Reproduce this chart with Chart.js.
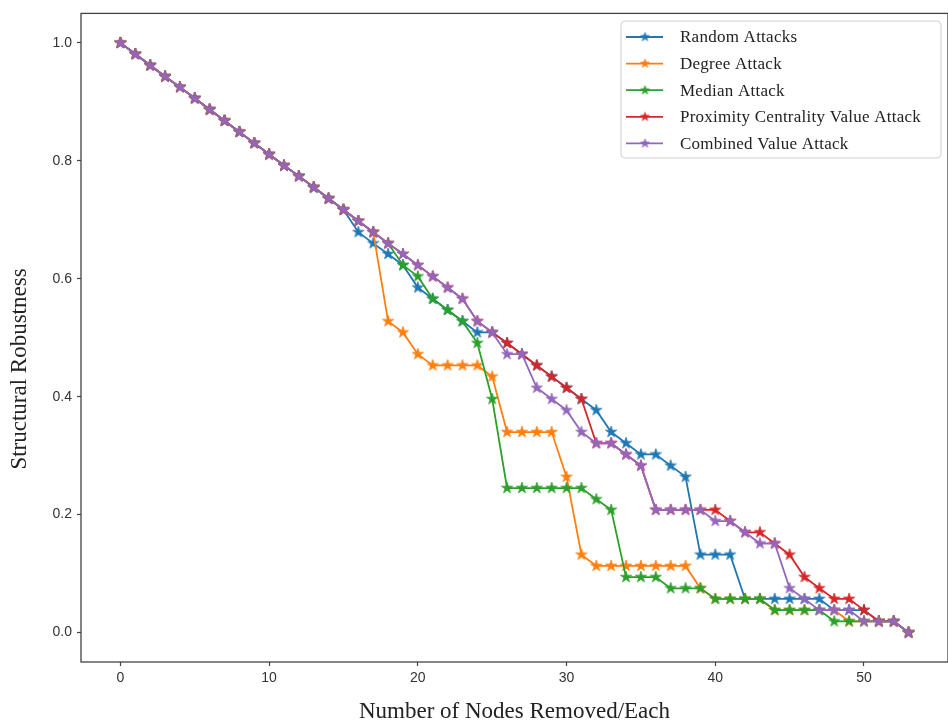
<!DOCTYPE html>
<html>
<head>
<meta charset="utf-8">
<script src="https://cdn.jsdelivr.net/npm/chart.js@4.4.1/dist/chart.umd.min.js"></script>
<style>
  html, body { margin: 0; padding: 0; background: #fff; }
  #wrap { width: 948px; height: 728px; }
</style>
</head>
<body>
<div id="wrap"><canvas id="chart" width="948" height="728"></canvas></div>
<script>
// 横轴：移除节点数
const nodesRemoved = [0, 1, 2, 3, 4, 5, 6, 7, 8, 9, 10, 11, 12, 13, 14, 15, 16, 17, 18, 19,
  20, 21, 22, 23, 24, 25, 26, 27, 28, 29, 30, 31, 32, 33, 34, 35, 36, 37, 38, 39,
  40, 41, 42, 43, 44, 45, 46, 47, 48, 49, 50, 51, 52, 53];

const xTicks = [0, 10, 20, 30, 40, 50];
const yTicks = [0, 0.2, 0.4, 0.6, 0.8, 1.0];

const seriesLabels = ['Random Attacks', 'Degree Attack', 'Median Attack',
  'Proximity Centrality Value Attack', 'Combined Value Attack'];

const randomAttack = [1, 0.981, 0.962, 0.943, 0.925, 0.906, 0.887, 0.868, 0.849, 0.830, 0.811, 0.792, 0.774, 0.755, 0.736, 0.717,
  0.679, 0.660, 0.642, 0.623, 0.585, 0.566, 0.547, 0.528, 0.509, 0.509,
  0.491, 0.472, 0.453, 0.434, 0.415, 0.396, 0.377, 0.340, 0.321, 0.302,
  0.302, 0.283, 0.264, 0.132, 0.132, 0.132, 0.057, 0.057, 0.057, 0.057,
  0.057, 0.057, 0.038, 0.038, 0.038, 0.019, 0.019, 0];

const degreeAttack = [1, 0.981, 0.962, 0.943, 0.925, 0.906, 0.887, 0.868, 0.849, 0.830, 0.811, 0.792, 0.774, 0.755, 0.736, 0.717,
  0.698, 0.679, 0.528, 0.509, 0.472, 0.453, 0.453, 0.453, 0.453, 0.434,
  0.340, 0.340, 0.340, 0.340, 0.264, 0.132, 0.113, 0.113, 0.113, 0.113,
  0.113, 0.113, 0.113, 0.075, 0.057, 0.057, 0.057, 0.057, 0.038, 0.038,
  0.038, 0.038, 0.038, 0.019, 0.019, 0.019, 0.019, 0];

const medianAttack = [1, 0.981, 0.962, 0.943, 0.925, 0.906, 0.887, 0.868, 0.849, 0.830, 0.811, 0.792, 0.774, 0.755, 0.736, 0.717,
  0.698, 0.679, 0.660, 0.623, 0.604, 0.566, 0.547, 0.528, 0.491, 0.396,
  0.245, 0.245, 0.245, 0.245, 0.245, 0.245, 0.226, 0.208, 0.094, 0.094,
  0.094, 0.075, 0.075, 0.075, 0.057, 0.057, 0.057, 0.057, 0.038, 0.038,
  0.038, 0.038, 0.019, 0.019, 0.019, 0.019, 0.019, 0];

const proximityAttack = [1, 0.981, 0.962, 0.943, 0.925, 0.906, 0.887, 0.868, 0.849, 0.830, 0.811, 0.792, 0.774, 0.755, 0.736, 0.717,
  0.698, 0.679, 0.660, 0.642, 0.623, 0.604, 0.585, 0.566, 0.528, 0.509,
  0.491, 0.472, 0.453, 0.434, 0.415, 0.396, 0.321, 0.321, 0.302, 0.283,
  0.208, 0.208, 0.208, 0.208, 0.208, 0.189, 0.170, 0.170, 0.151, 0.132,
  0.094, 0.075, 0.057, 0.057, 0.038, 0.019, 0.019, 0];

const combinedAttack = [1, 0.981, 0.962, 0.943, 0.925, 0.906, 0.887, 0.868, 0.849, 0.830, 0.811, 0.792, 0.774, 0.755, 0.736, 0.717,
  0.698, 0.679, 0.660, 0.642, 0.623, 0.604, 0.585, 0.566, 0.528, 0.509,
  0.472, 0.472, 0.415, 0.396, 0.377, 0.340, 0.321, 0.321, 0.302, 0.283,
  0.208, 0.208, 0.208, 0.208, 0.189, 0.189, 0.170, 0.151, 0.151, 0.075,
  0.057, 0.038, 0.038, 0.038, 0.019, 0.019, 0.019, 0];

const seriesValues = [randomAttack, degreeAttack, medianAttack, proximityAttack, combinedAttack];
const seriesColors = ['#1f77b4', '#ff7f0e', '#2ca02c', '#d62728', '#9467bd'];

/**
 * 实心五角星标记（仿 matplotlib '*'）
 */
function makeStar(color, size) {
  const c = document.createElement('canvas');
  c.width = c.height = size;
  const g = c.getContext('2d');
  const R = size * 0.42, r = R * 0.382, cx = size / 2, cy = size / 2;
  g.beginPath();
  for (let i = 0; i < 10; i++) {
    const a = -Math.PI / 2 + i * Math.PI / 5;
    const rad = i % 2 ? r : R;
    const px = cx + rad * Math.cos(a), py = cy + rad * Math.sin(a);
    i ? g.lineTo(px, py) : g.moveTo(px, py);
  }
  g.closePath();
  g.fillStyle = color;
  g.fill();
  g.strokeStyle = color;
  g.lineWidth = 0.8;
  g.stroke();
  return c;
}

const stars = seriesColors.map(c => makeStar(c, 14));

// 后画的在上层：紫色最上
const datasets = seriesLabels.map((label, i) => ({
  label,
  data: nodesRemoved.map((x, j) => ({ x, y: seriesValues[i][j] })),
  borderColor: seriesColors[i],
  backgroundColor: seriesColors[i],
  borderWidth: 1.8,
  pointStyle: stars[i],
  pointRadius: 5,
  tension: 0,
  order: seriesLabels.length - i
}));

// 坐标框 + y 轴标题 + 图例
const framePlugin = {
  id: 'frame',
  afterDraw(chart) {
    const { ctx, chartArea: a } = chart;
    ctx.save();
    ctx.strokeStyle = '#444';
    ctx.lineWidth = 1.3;
    ctx.strokeRect(a.left, a.top, a.right - a.left, a.bottom - a.top);

    // y 轴标题
    ctx.translate(20, 369);
    ctx.rotate(-Math.PI / 2);
    ctx.fillStyle = '#222';
    ctx.font = '23px "Liberation Serif", "Times New Roman", serif';
    ctx.textAlign = 'center';
    ctx.textBaseline = 'middle';
    ctx.fillText('Structural Robustness', 0, 0);
    ctx.restore();

    // 图例
    ctx.save();
    const bx = 621, by = 21, bw = 320, bh = 137;
    ctx.beginPath();
    ctx.roundRect(bx, by, bw, bh, 4);
    ctx.fillStyle = 'rgba(255,255,255,0.9)';
    ctx.fill();
    ctx.strokeStyle = '#d0d0d0';
    ctx.lineWidth = 1;
    ctx.stroke();
    ctx.font = '17px "Liberation Serif", "Times New Roman", serif';
    ctx.letterSpacing = '0.25px';
    ctx.textBaseline = 'middle';
    ctx.textAlign = 'left';
    seriesLabels.forEach((label, i) => {
      const y = 37 + i * 26.6;
      ctx.strokeStyle = seriesColors[i];
      ctx.lineWidth = 1.8;
      ctx.beginPath();
      ctx.moveTo(626, y);
      ctx.lineTo(663, y);
      ctx.stroke();
      ctx.drawImage(makeStar(seriesColors[i], 11), 645 - 5.5, y - 5.5);
      ctx.fillStyle = '#222';
      ctx.fillText(label, 680, y + 1);
    });
    ctx.restore();
  }
};

const tickFont = { family: '"Liberation Sans", Arial, sans-serif', size: 14 };

new Chart(document.getElementById('chart'), {
  type: 'line',
  data: { datasets },
  options: {
    responsive: false,
    animation: false,
    devicePixelRatio: 1,
    layout: { autoPadding: false, padding: { left: 0, right: 0, top: 12, bottom: 0 } },
    plugins: { legend: { display: false }, tooltip: { enabled: false } },
    scales: {
      x: {
        type: 'linear',
        min: -2.65,
        max: 55.65,
        afterBuildTicks: s => { s.ticks = xTicks.map(v => ({ value: v })); },
        afterFit: s => { s.height = 66; s.paddingRight = 0; },
        grid: { drawOnChartArea: false, tickLength: 4, tickColor: '#444', tickWidth: 1.2 },
        border: { display: false },
        ticks: { font: tickFont, color: '#333', padding: 4, maxRotation: 0 },
        title: {
          display: true,
          text: 'Number of Nodes Removed/Each',
          color: '#222',
          font: { family: '"Liberation Serif", "Times New Roman", serif', size: 23 },
          padding: { top: 0, bottom: 2 }
        }
      },
      y: {
        min: -0.05,
        max: 1.05,
        afterBuildTicks: s => { s.ticks = yTicks.map(v => ({ value: v })); },
        afterFit: s => { s.width = 81; },
        grid: { drawOnChartArea: false, tickLength: 4, tickColor: '#444', tickWidth: 1.2 },
        border: { display: false },
        ticks: { font: tickFont, color: '#333', padding: 5, callback: v => v.toFixed(1) }
      }
    }
  },
  plugins: [framePlugin]
});
</script>
</body>
</html>
